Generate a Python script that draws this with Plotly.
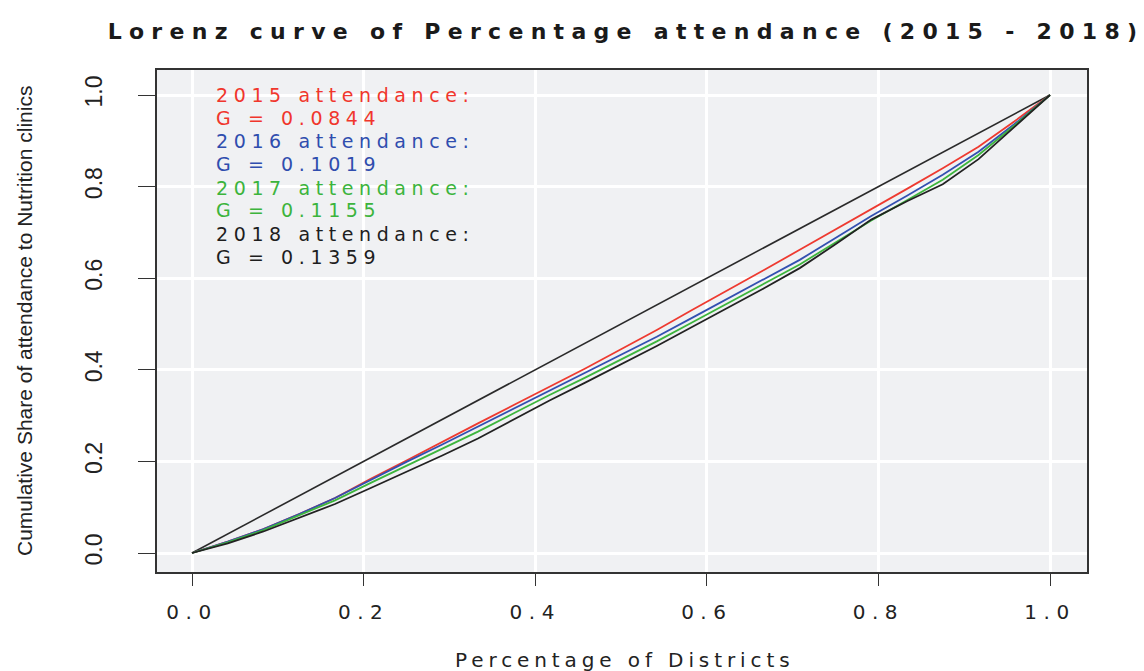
import plotly.graph_objects as go

# ---- data ----
share_districts = [0, 0.0417, 0.0833, 0.125, 0.1667, 0.2083, 0.25, 0.2917, 0.3333, 0.375,
                   0.4167, 0.4583, 0.5, 0.5417, 0.5833, 0.625, 0.6667, 0.7083, 0.75,
                   0.7917, 0.8333, 0.875, 0.9167, 0.9583, 1.0]
lorenz_2015 = [0, 0.025, 0.052, 0.085, 0.12, 0.162, 0.202, 0.243, 0.283, 0.323, 0.363, 0.403,
               0.445, 0.487, 0.531, 0.574, 0.618, 0.662, 0.706, 0.750, 0.795, 0.840, 0.887,
               0.942, 1.0]
lorenz_2016 = [0, 0.025, 0.052, 0.085, 0.12, 0.160, 0.199, 0.237, 0.276, 0.315, 0.354, 0.392,
               0.432, 0.472, 0.514, 0.556, 0.598, 0.640, 0.688, 0.736, 0.780, 0.826, 0.876,
               0.936, 1.0]
lorenz_2017 = [0, 0.023, 0.050, 0.082, 0.115, 0.153, 0.190, 0.228, 0.265, 0.305, 0.345, 0.383,
               0.423, 0.462, 0.504, 0.546, 0.588, 0.630, 0.678, 0.726, 0.770, 0.815, 0.869,
               0.933, 1.0]
lorenz_2018 = [0, 0.021, 0.047, 0.077, 0.107, 0.142, 0.177, 0.213, 0.250, 0.292, 0.333, 0.372,
               0.412, 0.452, 0.494, 0.536, 0.578, 0.622, 0.674, 0.728, 0.768, 0.805, 0.860,
               0.930, 1.0]
equality_x = [0, 1]
equality_y = [0, 1]

years = ["2015", "2016", "2017", "2018"]
gini = ["0.0844", "0.1019", "0.1155", "0.1359"]
tick_vals = [0, 0.2, 0.4, 0.6, 0.8, 1.0]
tick_text = ["0.0", "0.2", "0.4", "0.6", "0.8", "1.0"]

title_text = "Lorenz curve of Percentage attendance (2015 - 2018)"
x_title = "Percentage of Districts"
y_title = "Cumulative Share of attendance to Nutrition clinics"

# ---- styling ----
colors = ["#EE3A30", "#3350B0", "#3DB53D", "#222222"]
text_colors = ["#F0362C", "#2F4DAE", "#3CB43C", "#1E1E1E"]
FONT = "Liberation Sans, Arial, sans-serif"
WIDE = "DejaVu Sans, Verdana, sans-serif"

# plot area in pixels
W, H = 1144, 671
L, R, T, B = 157, 1087, 70, 572
x0px, x1px = 192, 1050
y0px, y1px = 553, 95
sx = (x1px - x0px)
sy = (y0px - y1px)
xr = [(L - x0px) / sx, (R - x0px) / sx]
yr = [(y0px - B) / sy, (y0px - T) / sy]


def px_to_paper_y(py):
    return (B - py) / (B - T)


def px_to_paper_x(px):
    return (px - L) / (R - L)


def spaced(t, s):
    return f'<span style="letter-spacing:{s}px">{t}</span>'


fig = go.Figure()
fig.add_trace(go.Scatter(x=equality_x, y=equality_y, mode="lines",
                         line=dict(color="#2a2a2a", width=1.6), showlegend=False,
                         hoverinfo="skip"))
for ys, c in zip([lorenz_2015, lorenz_2016, lorenz_2017, lorenz_2018], colors):
    fig.add_trace(go.Scatter(x=share_districts, y=ys, mode="lines",
                             line=dict(color=c, width=1.8), showlegend=False))

annotations = []
line_y = [95, 118, 141, 164, 188, 210, 234, 257]
for i, (yr_, g, tc) in enumerate(zip(years, gini, text_colors)):
    for j, t in enumerate([f"{yr_} attendance:", f"G = {g}"]):
        annotations.append(dict(
            text=spaced(t, 5.6), x=px_to_paper_x(214), y=px_to_paper_y(line_y[2 * i + j]),
            xref="paper", yref="paper", xanchor="left", yanchor="middle",
            showarrow=False, font=dict(family=WIDE, size=19, color=tc)))

annotations.append(dict(text=spaced(x_title, 4.9), x=px_to_paper_x(624), y=px_to_paper_y(660),
                        xref="paper", yref="paper", xanchor="center", yanchor="middle",
                        showarrow=False, font=dict(family=WIDE, size=20, color="#222")))
annotations.append(dict(text=y_title, x=px_to_paper_x(24), y=0.5, textangle=-90,
                        xref="paper", yref="paper", xanchor="center", yanchor="middle",
                        showarrow=False, font=dict(family=FONT, size=21, color="#222")))

fig.update_layout(
    template="none",
    width=W, height=H,
    margin=dict(l=L, r=W - R, t=T, b=H - B, pad=0),
    paper_bgcolor="white",
    plot_bgcolor="#F0F1F3",
    title=dict(text=spaced(title_text, 7.3), x=px_to_paper_x(626), xref="paper",
               xanchor="center", y=1 - 31 / H, yref="container", yanchor="middle",
               font=dict(family=WIDE, size=22, color="#1a1a1a", weight="bold")),
    annotations=annotations,
    xaxis=dict(range=xr, tickvals=tick_vals,
               ticktext=[spaced(t, 6.5) for t in tick_text],
               showgrid=True, gridcolor="white", gridwidth=3, zeroline=False,
               showline=True, mirror=True, linecolor="#333", linewidth=1.5,
               ticks="outside", ticklen=12, tickwidth=1.3, tickcolor="#333",
               ticklabelstandoff=9,
               tickfont=dict(family=WIDE, size=20, color="#222"), automargin=False),
    yaxis=dict(range=yr, tickvals=tick_vals, ticktext=tick_text, tickangle=-90,
               showgrid=True, gridcolor="white", gridwidth=3, zeroline=False,
               showline=True, mirror=True, linecolor="#333", linewidth=1.5,
               ticks="outside", ticklen=17, tickwidth=1.3, tickcolor="#333",
               ticklabelstandoff=27,
               tickfont=dict(family=FONT, size=23, color="#222"), automargin=False),
)

fig.write_html("out.html", config={"displayModeBar": False})
